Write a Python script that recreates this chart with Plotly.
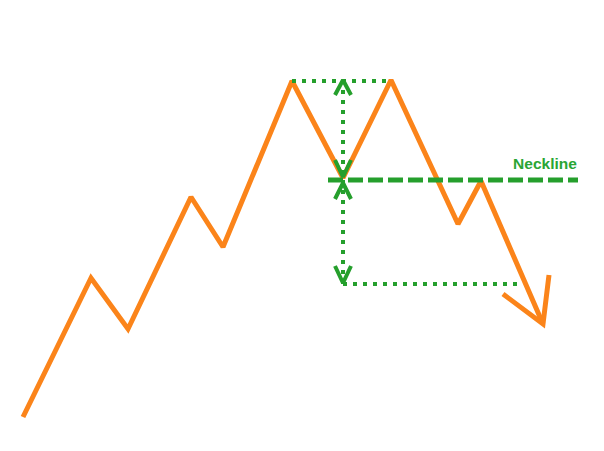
import plotly.graph_objects as go

# price path (x position, level) - level measured upward from the bottom
price_x = [23, 91, 128, 191, 223, 292, 343, 391, 458, 481, 543]
price_y = [34, 173, 122, 254, 204, 370, 273, 371, 227, 270, 127]

# arrow head on the final leg
head_x = [503, 543, 549]
head_y = [157, 127, 176]

# pattern guides
neck_x = [328, 578]
neck_y = [271, 271]
top_x = [292, 392]
top_y = [370, 370]
target_x = [343, 518]
target_y = [167, 167]
height_x = [343, 343]
height_y = [371, 167]

# chevrons on the measuring line
chev_x = [335, 343, 351]
chev_top = [356, 371, 356]
chev_neck_down = [291, 274, 291]
chev_neck_up = [252, 268, 252]
chev_bottom = [185, 168, 185]

label_x = [545]
label_y = [286]
label_text = ["Neckline"]

orange = "#fb841a"
green = "#259f2c"

fig = go.Figure()

fig.add_trace(go.Scatter(x=price_x, y=price_y, mode="lines",
                         line=dict(color=orange, width=5)))
fig.add_trace(go.Scatter(x=head_x, y=head_y, mode="lines",
                         line=dict(color=orange, width=5)))

fig.add_trace(go.Scatter(x=neck_x, y=neck_y, mode="lines",
                         line=dict(color=green, width=5, dash="15px,5px")))
for xs, ys in [(top_x, top_y), (target_x, target_y), (height_x, height_y)]:
    fig.add_trace(go.Scatter(x=xs, y=ys, mode="lines",
                             line=dict(color=green, width=4, dash="4px,6px")))

for ys in [chev_top, chev_neck_down, chev_neck_up, chev_bottom]:
    fig.add_trace(go.Scatter(x=chev_x, y=ys, mode="lines",
                             line=dict(color=green, width=4)))

fig.add_trace(go.Scatter(x=label_x, y=label_y, mode="text", text=label_text,
                         textfont=dict(family="Liberation Sans, Arial", size=15.5,
                                       color="#2aa534", weight="bold")))

fig.update_layout(
    width=604, height=451,
    margin=dict(l=0, r=0, t=0, b=0),
    paper_bgcolor="white", plot_bgcolor="white",
    showlegend=False,
    hovermode=False,
    xaxis=dict(range=[0, 604], visible=False, fixedrange=True),
    yaxis=dict(range=[0, 451], visible=False, fixedrange=True),
)

# drop the page's default body margin so the plot sits at the corner
fig.write_html("out.html", config={"displayModeBar": False},
               post_script="document.body.style.margin='0';")
